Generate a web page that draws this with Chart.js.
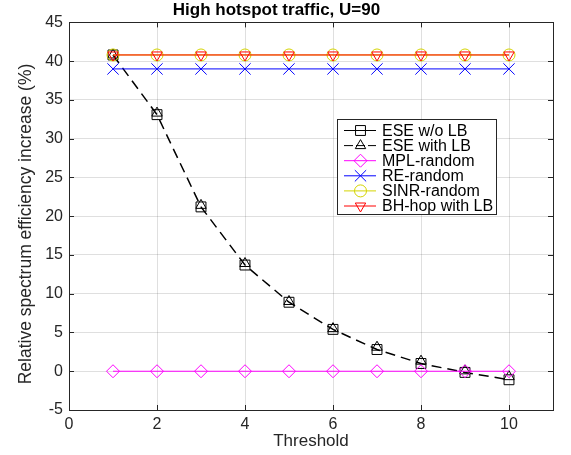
<!DOCTYPE html>
<html>
<head>
<meta charset="utf-8">
<script src="https://cdn.jsdelivr.net/npm/chart.js@4/dist/chart.umd.min.js"></script>
<style>
  html, body { margin: 0; padding: 0; background: #fff; }
  #wrap { width: 571px; height: 455px; }
</style>
</head>
<body>
<div id="wrap"><canvas id="chart" width="571" height="455"></canvas></div>
<script>
  // values
  const thresholds = [1, 2, 3, 4, 5, 6, 7, 8, 9, 10];
  const eseNoLb = [40.8, 33.1, 21.2, 13.7, 8.9, 5.4, 2.8, 1.0, -0.15, -1.1];
  const eseLb = [40.8, 33.3, 21.4, 13.9, 9.0, 5.5, 3.1, 1.3, 0.05, -0.7];
  const mplRandom = [0, 0, 0, 0, 0, 0, 0, 0, 0, 0];
  const reRandom = [39, 39, 39, 39, 39, 39, 39, 39, 39, 39];
  const sinrRandom = [40.8, 40.8, 40.8, 40.8, 40.8, 40.8, 40.8, 40.8, 40.8, 40.8];
  const bhHopLb = [40.8, 40.8, 40.8, 40.8, 40.8, 40.8, 40.8, 40.8, 40.8, 40.8];

  const xTicks = [0, 2, 4, 6, 8, 10];
  const yTicks = [-5, 0, 5, 10, 15, 20, 25, 30, 35, 40, 45];

  const FONT = "'Liberation Sans', Arial, Helvetica, sans-serif";
  const AXIS = '#262626';
  const Y_TITLE = 'Relative spectrum efficiency increase (%)';

  const SERIES = [
    { label: 'ESE w/o LB', data: eseNoLb, color: '#000000', style: 'rect', radius: 7, dash: [10, 6], width: 1.5, legendDash: [] },
    { label: 'ESE with LB', data: eseLb, color: '#000000', style: 'triangle', radius: 6, dash: [10, 6], width: 1.5, noLine: true, legendDash: [9, 3] },
    { label: 'MPL-random', data: mplRandom, color: '#ff00ff', style: 'rectRot', radius: 6.5, dash: [], width: 1 },
    { label: 'RE-random', data: reRandom, color: '#0000ff', style: 'crossRot', radius: 8, dash: [], width: 1 },
    { label: 'SINR-random', data: sinrRandom, color: '#d4d400', style: 'circle', radius: 6, dash: [], width: 1 },
    { label: 'BH-hop with LB', data: bhHopLb, color: '#ff0000', style: 'triangle', radius: 6, rotation: 180, dash: [], width: 1 },
  ];

  function drawMarker(ctx, s, x, y) {
    const r = s.radius;
    ctx.save();
    ctx.strokeStyle = s.color;
    ctx.lineWidth = 1;
    ctx.setLineDash([]);
    ctx.beginPath();
    if (s.style === 'rect') {
      const h = r / Math.SQRT2;
      ctx.rect(x - h, y - h, 2 * h, 2 * h);
    } else if (s.style === 'triangle') {
      const sign = s.rotation === 180 ? -1 : 1;
      for (let i = 0; i < 3; i++) {
        const a = -Math.PI / 2 + i * 2 * Math.PI / 3;
        const px = x + Math.cos(a) * r;
        const py = y + Math.sin(a) * r * sign;
        if (i === 0) ctx.moveTo(px, py); else ctx.lineTo(px, py);
      }
      ctx.closePath();
    } else if (s.style === 'rectRot') {
      ctx.moveTo(x, y - r); ctx.lineTo(x + r, y); ctx.lineTo(x, y + r); ctx.lineTo(x - r, y); ctx.closePath();
    } else if (s.style === 'crossRot') {
      const h = r * Math.SQRT1_2;
      ctx.moveTo(x - h, y - h); ctx.lineTo(x + h, y + h);
      ctx.moveTo(x + h, y - h); ctx.lineTo(x - h, y + h);
    } else {
      ctx.arc(x, y, r, 0, Math.PI * 2);
    }
    ctx.stroke();
    ctx.restore();
  }

  // MATLAB-style box: frame, inward ticks on all four sides, rotated y label
  const frameAndTicks = {
    id: 'frameAndTicks',
    beforeDatasetsDraw(chart) {
      const { ctx, chartArea: a, scales } = chart;
      ctx.save();
      ctx.strokeStyle = AXIS;
      ctx.lineWidth = 1;
      ctx.beginPath();
      xTicks.forEach((v) => {
        const px = Math.round(scales.x.getPixelForValue(v)) + 0.5;
        ctx.moveTo(px, a.bottom); ctx.lineTo(px, a.bottom - 5);
        ctx.moveTo(px, a.top); ctx.lineTo(px, a.top + 5);
      });
      yTicks.forEach((v) => {
        const py = Math.round(scales.y.getPixelForValue(v)) + 0.5;
        ctx.moveTo(a.left, py); ctx.lineTo(a.left + 5, py);
        ctx.moveTo(a.right, py); ctx.lineTo(a.right - 5, py);
      });
      ctx.stroke();
      ctx.strokeRect(Math.round(a.left) + 0.5, Math.round(a.top) + 0.5, Math.round(a.width), Math.round(a.height));

      ctx.translate(26, 224);
      ctx.rotate(-Math.PI / 2);
      ctx.font = '17.5px ' + FONT;
      ctx.fillStyle = AXIS;
      ctx.textAlign = 'center';
      ctx.textBaseline = 'middle';
      ctx.fillText(Y_TITLE, 0, 0);
      ctx.restore();
    },
  };

  const matlabLegend = {
    id: 'matlabLegend',
    afterDatasetsDraw(chart) {
      const { ctx } = chart;
      const box = { x: 337.5, y: 119.5, w: 159, h: 95 };
      ctx.save();
      ctx.fillStyle = '#fff';
      ctx.fillRect(box.x, box.y, box.w, box.h);
      ctx.strokeStyle = AXIS;
      ctx.lineWidth = 1;
      ctx.strokeRect(box.x, box.y, box.w, box.h);
      ctx.font = '16px ' + FONT;
      ctx.textBaseline = 'middle';
      SERIES.forEach((s, i) => {
        const y = 130.5 + i * 15.1;
        ctx.beginPath();
        ctx.strokeStyle = s.color;
        ctx.lineWidth = 1;
        ctx.setLineDash(s.legendDash || []);
        ctx.moveTo(344, y); ctx.lineTo(376, y);
        ctx.stroke();
        ctx.setLineDash([]);
        drawMarker(ctx, s, 360.5, y);
        ctx.fillStyle = '#000';
        ctx.fillText(s.label, 382, y + 1);
      });
      ctx.restore();
    },
  };

  const datasets = SERIES.map((s, i) => ({
    label: s.label,
    data: thresholds.map((t, k) => ({ x: t, y: s.data[k] })),
    showLine: !s.noLine,
    borderColor: s.color,
    borderWidth: s.width,
    borderDash: s.dash,
    backgroundColor: 'rgba(0,0,0,0)',
    pointStyle: s.style,
    pointRadius: s.radius,
    pointRotation: s.rotation || 0,
    pointBorderColor: s.color,
    pointBorderWidth: 1,
    pointBackgroundColor: 'rgba(0,0,0,0)',
    tension: 0,
    fill: false,
    order: SERIES.length - i,
  }));

  new Chart(document.getElementById('chart'), {
    type: 'line',
    data: { datasets },
    plugins: [frameAndTicks, matlabLegend],
    options: {
      responsive: false,
      animation: false,
      devicePixelRatio: 1,
      layout: { padding: { left: 0, right: 18, top: 0, bottom: 0 } },
      plugins: {
        legend: { display: false },
        tooltip: { enabled: false },
        title: {
          display: true,
          text: 'High hotspot traffic, U=90',
          color: '#000',
          font: { family: FONT, size: 17, weight: 'bold', lineHeight: 1.2 },
          padding: { top: 0, bottom: 2 },
        },
      },
      scales: {
        x: {
          type: 'linear',
          min: 0,
          max: 11,
          afterBuildTicks: (scale) => { scale.ticks = xTicks.map((v) => ({ value: v })); },
          afterFit: (scale) => { scale.height = 45; },
          grid: { color: 'rgba(38,38,38,0.15)', drawTicks: false },
          border: { display: false },
          ticks: { color: AXIS, padding: 5, font: { family: FONT, size: 16 }, maxRotation: 0 },
          title: {
            display: true,
            text: 'Threshold',
            color: AXIS,
            font: { family: FONT, size: 17, lineHeight: 1.2 },
            padding: { top: 0, bottom: 3 },
          },
        },
        y: {
          type: 'linear',
          min: -5,
          max: 45,
          afterBuildTicks: (scale) => { scale.ticks = yTicks.map((v) => ({ value: v })); },
          afterFit: (scale) => { scale.width = 69; },
          grid: { color: 'rgba(38,38,38,0.15)', drawTicks: false },
          border: { display: false },
          ticks: { color: AXIS, padding: 6, font: { family: FONT, size: 16 } },
        },
      },
    },
  });
</script>
</body>
</html>
